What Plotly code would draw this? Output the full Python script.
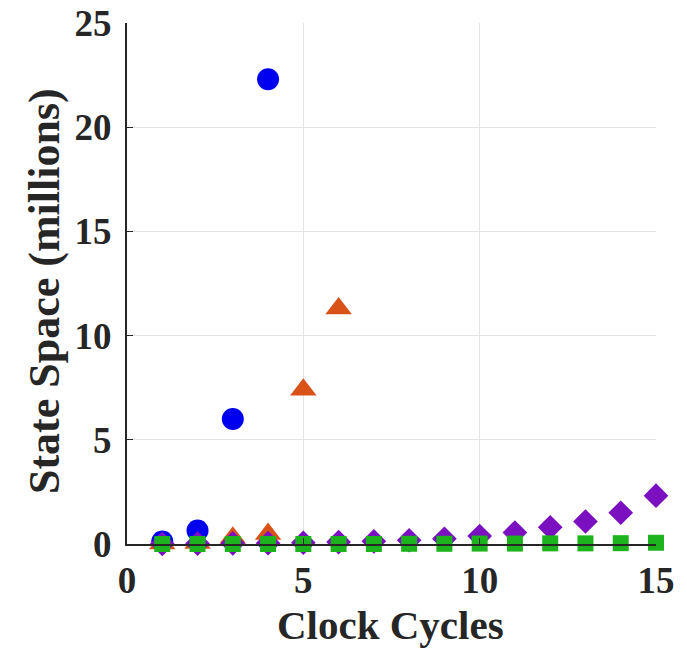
import plotly.graph_objects as go

# Data (values in millions)
blue_x = [1, 2, 3, 4]
blue_y = [0.12, 0.65, 6.0, 22.3]

orange_x = [1, 2, 3, 4, 5, 6]
orange_y = [0.02, 0.05, 0.3, 0.48, 7.4, 11.3]

purple_x = list(range(1, 16))
purple_y = [0.01, 0.02, 0.03, 0.04, 0.06, 0.09, 0.13, 0.18, 0.25, 0.38, 0.55, 0.8, 1.08, 1.5, 2.32]

green_x = list(range(1, 16))
green_y = [0.0, 0.0, 0.0, 0.0, 0.0, 0.0, 0.0, 0.01, 0.01, 0.02, 0.02, 0.03, 0.03, 0.04, 0.06]

x_ticks = [0, 5, 10, 15]
y_ticks = [0, 5, 10, 15, 20, 25]

FONT = "Liberation Serif"
TXT = "#262626"

L, R, T, B = 127, 31, 23, 108
W, H = 687, 652
PW, PH = W - L - R, H - T - B

fig = go.Figure()
fig.add_trace(go.Scatter(x=blue_x, y=blue_y, mode="markers",
                         marker=dict(symbol="circle", size=22, color="#0000F0", line=dict(width=0)),
                         cliponaxis=False))
fig.add_trace(go.Scatter(x=orange_x, y=orange_y, mode="markers",
                         marker=dict(symbol="triangle-up", size=23, color="#D95319", line=dict(width=0)),
                         cliponaxis=False))
fig.add_trace(go.Scatter(x=purple_x, y=purple_y, mode="markers",
                         marker=dict(symbol="diamond", size=19, color="#7A10C0", line=dict(width=0)),
                         cliponaxis=False))
fig.add_trace(go.Scatter(x=green_x, y=green_y, mode="markers",
                         marker=dict(symbol="square", size=16, color="#1DB31D", line=dict(width=0)),
                         cliponaxis=False))

fig.update_layout(
    width=W, height=H,
    margin=dict(l=L, r=R, t=T, b=B),
    paper_bgcolor="white", plot_bgcolor="white",
    showlegend=False,
    font=dict(family=FONT, color=TXT),
    xaxis=dict(
        range=[0, 15], tickvals=x_ticks, ticktext=[str(v) for v in x_ticks],
        showgrid=True, gridcolor="#E3E3E3", gridwidth=1,
        showline=True, linecolor=TXT, linewidth=2,
        ticks="inside", ticklen=6, tickcolor=TXT,
        tickfont=dict(family=FONT, size=37, color=TXT, weight="bold"),
        ticklabelstandoff=3,
        zeroline=False, automargin=False,
    ),
    yaxis=dict(
        range=[0, 25], tickvals=y_ticks, ticktext=[str(v) for v in y_ticks],
        showgrid=True, gridcolor="#E3E3E3", gridwidth=1,
        showline=True, linecolor=TXT, linewidth=2,
        ticks="inside", ticklen=6, tickcolor=TXT,
        tickfont=dict(family=FONT, size=37, color=TXT, weight="bold"),
        ticklabelstandoff=6,
        zeroline=False, automargin=False,
    ),
    annotations=[
        dict(text="<b>Clock Cycles</b>", xref="paper", yref="paper",
             x=(390 - L) / PW, y=(H - B - 625) / PH, xanchor="center", yanchor="middle",
             borderpad=0, showarrow=False, font=dict(family=FONT, size=41, color=TXT)),
        dict(text="<b>State Space (millions)</b>", xref="paper", yref="paper",
             x=(44 - L) / PW, y=(H - B - 291) / PH, xanchor="center", yanchor="middle",
             borderpad=0, textangle=-90, showarrow=False, font=dict(family=FONT, size=44, color=TXT)),
    ],
)

fig.write_html("out.html")
